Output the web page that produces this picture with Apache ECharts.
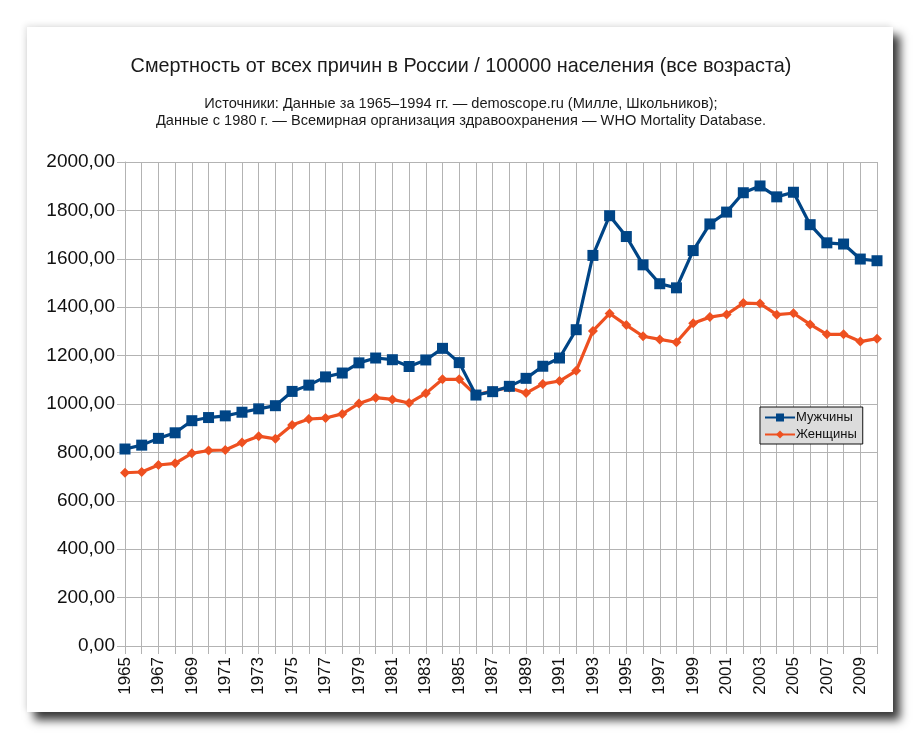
<!DOCTYPE html>
<html><head><meta charset="utf-8">
<script src="https://cdn.jsdelivr.net/npm/echarts@6/dist/echarts.min.js"></script>
<style>
html,body{margin:0;padding:0;background:#fff;width:922px;height:741px;overflow:hidden;}
#card{position:absolute;left:27px;top:27px;width:866px;height:685px;background:#fff;
 box-shadow:7px 8px 9px rgba(0,0,0,0.78), -2px -2px 6px rgba(0,0,0,0.10);}
#chart{position:absolute;left:0;top:0;width:922px;height:741px;}
</style></head>
<body>
<div id="card"></div>
<div id="chart"></div>
<script>
const years = [];
for (let y = 1965; y <= 2010; y++) years.push(String(y));
const men = [814,830,858,881,931,944,951,966,980,993,1052,1078,1112,1128,1170,1190,1183,1155,1182,1230,1171,1037,1051,1073,1106,1156,1190,1307,1614,1778,1692,1575,1497,1480,1634,1744,1793,1873,1901,1856,1875,1741,1666,1661,1599,1592];
const women = [716,719,748,755,796,808,810,841,867,856,913,938,942,959,1002,1026,1019,1004,1044,1102,1102,1037,1055,1067,1045,1083,1095,1137,1302,1374,1326,1280,1267,1255,1334,1359,1370,1417,1415,1369,1375,1329,1288,1288,1258,1270];
const titleText = 'Смертность от всех причин в России / 100000 населения (все возраста)';
const subText1 = 'Источники: Данные за 1965–1994 гг. — demoscope.ru (Милле, Школьников);';
const subText2 = 'Данные с 1980 г. — Всемирная организация здравоохранения — WHO Mortality Database.';
const seriesNames = ['Мужчины', 'Женщины'];

const chart = echarts.init(document.getElementById('chart'), null, {renderer:'canvas'});
const FONT = '"Liberation Sans", Arial, sans-serif';
chart.setOption({
  backgroundColor: 'transparent',
  textStyle: {fontFamily: FONT},
  title: [
    {text: titleText, left: 'center', top: 52, textStyle:{fontFamily:FONT, fontSize:19.8, fontWeight:'normal', color:'#1a1a1a'}},
    {text: subText1 + '\n' + subText2, left: 'center', top: 90, textStyle:{fontFamily:FONT, fontSize:14.6, fontWeight:'normal', color:'#1a1a1a', lineHeight:17, align:'center'}}
  ],
  legend: {
    orient: 'vertical', left: 760, top: 407,
    backgroundColor: '#dcdcdc', borderColor: '#111', borderWidth: 1,
    padding: [4, 6, 3, 4], itemGap: 4, itemWidth: 30, itemHeight: 10,
    textStyle: {fontFamily: FONT, fontSize: 13, color: '#111', padding:[0,0,0,-4]},
    data: seriesNames
  },
  grid: {left: 125, right: 45, top: 162, bottom: 95, containLabel: false},
  xAxis: {
    type: 'category', data: years, boundaryGap: false,
    axisLine: {lineStyle: {color: '#b3b3b3', width: 1}},
    axisTick: {show: true, interval: 0, length: 8, lineStyle:{color:'#b3b3b3'}},
    splitLine: {show: true, interval: 0, lineStyle: {color: '#b3b3b3', width: 1}},
    axisLabel: {rotate: 90, interval: 1, fontFamily: FONT, fontSize: 17, color: '#111', margin: 11}
  },
  yAxis: {
    type: 'value', min: 0, max: 2000, interval: 200,
    axisLine: {show: true, lineStyle: {color: '#b3b3b3'}},
    axisTick: {show: true, length: 8, lineStyle:{color:'#b3b3b3'}},
    splitLine: {show: true, lineStyle: {color: '#b3b3b3', width: 1}},
    axisLabel: {fontFamily: FONT, fontSize: 19, color: '#111', margin: 10,
      formatter: v => v.toFixed(2).replace('.', ',')}
  },
  series: [
    {name: seriesNames[0], type: 'line', data: men, symbol: 'rect', symbolSize: 11, showAllSymbol: true,
     color: '#004586', lineStyle: {width: 3.2, color:'#004586'}, itemStyle:{color:'#004586'}, z: 3, animation:false},
    {name: seriesNames[1], type: 'line', data: women, symbol: 'diamond', symbolSize: 10, showAllSymbol: true,
     color: '#ee5020', lineStyle: {width: 3.2, color:'#ee5020'}, itemStyle:{color:'#ee5020'}, z: 2, animation:false}
  ]
});
</script>
</body></html>
